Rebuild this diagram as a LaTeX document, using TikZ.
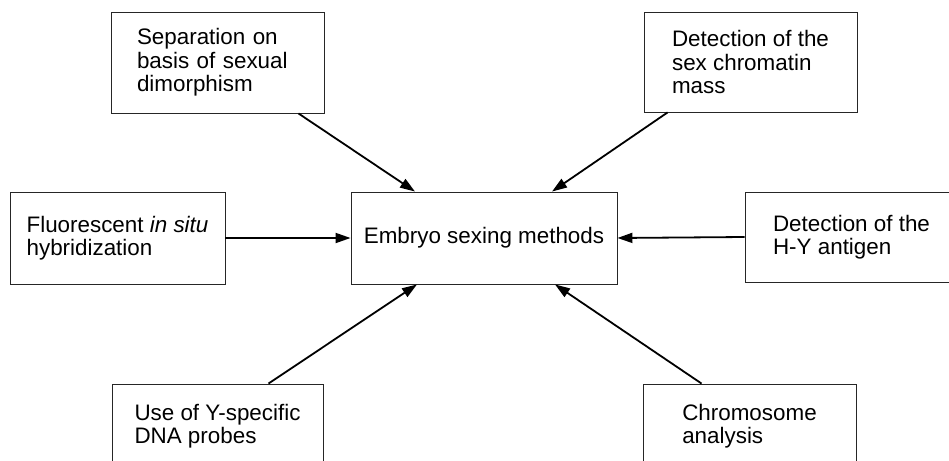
\documentclass[tikz,border=0pt]{standalone}
\usepackage{fontspec}
\setmainfont{Liberation Sans}
\usepackage{tikz}
\usetikzlibrary{arrows.meta,calc,positioning}

\begin{document}
\begin{tikzpicture}[x=1pt,y=-1pt,
    method/.style={draw=black!85,line width=0.9pt,align=left,minimum width=213pt,
      font=\fontsize{22.4pt}{23.5pt}\selectfont},
    feed/.style={-{Triangle[length=15pt,width=10pt]},line width=1.8pt}]
  \useasboundingbox (0,0) rectangle (949,460);
  \clip (0,0) rectangle (949,460);
  % central box
  \node[method,minimum width=266pt,minimum height=92pt] (main) at (484,238) {Embryo sexing methods};
  % methods round it
  \node[method,minimum height=101pt,text width=161pt,inner xsep=26pt] (sep) at (217.5,62.5) {Separation on\\basis of sexual\\dimorphism};
  \node[method,minimum height=100pt] (chrom) at (750.5,62) {Detection of the\\sex chromatin\\mass};
  \node[method,minimum width=215pt,minimum height=92pt] (fish) at (117.5,238) {Fluorescent \textit{in situ}\\hybridization};
  \node[method,minimum height=90pt] (hy) at (851.5,237) {Detection of the\\H-Y antigen};
  \node[method,minimum width=211pt,minimum height=84pt] (dna) at (217.5,426) {Use of Y-specific\\DNA probes};
  \node[method,minimum height=84pt] (karyo) at (749.5,426) {Chromosome\\analysis};

  \draw[feed] ([xshift=-26pt]sep.south east) -- ([xshift=-69pt]main.north);
  \draw[feed] ([xshift=24pt]chrom.south west) -- ([xshift=68pt]main.north);
  \draw[feed] (fish.east) -- (main.west);
  \draw[feed] (hy.west) -- (main.east);
  \draw[feed] ([xshift=-55pt]dna.north east) -- ([xshift=-67pt]main.south);
  \draw[feed] ([xshift=59pt]karyo.north west) -- ([xshift=71pt]main.south);
\end{tikzpicture}
\end{document}
